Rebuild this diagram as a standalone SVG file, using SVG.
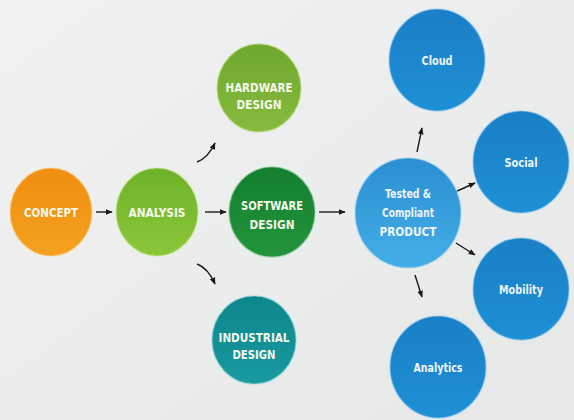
<svg xmlns="http://www.w3.org/2000/svg" width="574" height="420" viewBox="0 0 574 420">
<defs>
<linearGradient id="bg" x1="0" y1="0" x2="1" y2="1">
<stop offset="0" stop-color="#f1f2f2"/><stop offset="1" stop-color="#e6e8e8"/>
</linearGradient>
<linearGradient id="gOrange" x1="0" y1="0" x2="0" y2="1"><stop offset="0" stop-color="#f08e10"/><stop offset="1" stop-color="#f4a11f"/></linearGradient>
<linearGradient id="gLime" x1="0" y1="0" x2="0" y2="1"><stop offset="0" stop-color="#6db22a"/><stop offset="1" stop-color="#8cc63a"/></linearGradient>
<linearGradient id="gHw" x1="0" y1="0" x2="0" y2="1"><stop offset="0" stop-color="#6ea82e"/><stop offset="1" stop-color="#86bb3e"/></linearGradient>
<linearGradient id="gSw" x1="0" y1="0" x2="0" y2="1"><stop offset="0" stop-color="#137f2f"/><stop offset="1" stop-color="#23943b"/></linearGradient>
<linearGradient id="gInd" x1="0" y1="0" x2="0" y2="1"><stop offset="0" stop-color="#0e868c"/><stop offset="1" stop-color="#179aa0"/></linearGradient>
<linearGradient id="gBlue" x1="0" y1="0" x2="0" y2="1"><stop offset="0" stop-color="#1a7fc6"/><stop offset="1" stop-color="#1e90d6"/></linearGradient>
<linearGradient id="gBlueL" x1="0" y1="0" x2="0" y2="1"><stop offset="0" stop-color="#2a8fd3"/><stop offset="1" stop-color="#45aee6"/></linearGradient>
<marker id="ah" viewBox="0 0 10 10" refX="9" refY="5" markerWidth="5" markerHeight="5" orient="auto">
<path d="M0,1 L10,5 L0,9 Z" fill="#1a1a1a"/>
</marker>
<style>
.c{stroke-width:1.5;stroke-opacity:0.5}
.t{font-family:"Liberation Sans Narrow","DejaVu Sans Condensed","Liberation Sans",sans-serif;font-weight:bold;fill:#f4f7ea;text-anchor:middle;font-size:12.5px}
.tb{font-family:"Liberation Sans Narrow","DejaVu Sans Condensed","Liberation Sans",sans-serif;font-weight:bold;fill:#eef5fb;text-anchor:middle;font-size:12.5px}
.a{fill:none;stroke:#1a1a1a;stroke-width:1.4;marker-end:url(#ah)}
</style>
</defs>
<rect width="574" height="420" fill="url(#bg)"/>
<g id="connectors">
<path class="a" d="M96,212 L112,212"/>
<path class="a" d="M197,162 Q208,158 215,143"/>
<path class="a" d="M205,212 L226,212"/>
<path class="a" d="M197,264 Q208,268 215,284"/>
<path class="a" d="M319,212 L345,212"/>
<path class="a" d="M417,152 L422,128"/>
<path class="a" d="M455,192 L475,183"/>
<path class="a" d="M456,243 L475,255"/>
<path class="a" d="M415,275 L422,297"/>
</g>
<g id="concept">
<ellipse class="c" cx="51" cy="212" rx="41" ry="44" fill="url(#gOrange)" stroke="#ffd080"/>
<text class="t" x="51" y="216.5" textLength="54" lengthAdjust="spacingAndGlyphs">CONCEPT</text>
</g>
<g id="analysis">
<ellipse class="c" cx="157" cy="212" rx="41" ry="44" fill="url(#gLime)" stroke="#c8ec8a"/>
<text class="t" x="157" y="216.5" textLength="57" lengthAdjust="spacingAndGlyphs">ANALYSIS</text>
</g>
<g id="hardware">
<ellipse class="c" cx="259" cy="88" rx="42" ry="44" fill="url(#gHw)" stroke="#c0e080"/>
<text class="t" x="259" y="91.5" textLength="67" lengthAdjust="spacingAndGlyphs">HARDWARE</text>
<text class="t" x="259" y="108.5" textLength="45" lengthAdjust="spacingAndGlyphs">DESIGN</text>
</g>
<g id="software">
<ellipse class="c" cx="272" cy="212" rx="43" ry="45" fill="url(#gSw)" stroke="#7cc48a"/>
<text class="t" x="272" y="209.5" textLength="62" lengthAdjust="spacingAndGlyphs">SOFTWARE</text>
<text class="t" x="272" y="228.5" textLength="45" lengthAdjust="spacingAndGlyphs">DESIGN</text>
</g>
<g id="industrial">
<ellipse class="c" cx="254" cy="340" rx="42" ry="44" fill="url(#gInd)" stroke="#80d0d4"/>
<text class="t" x="254" y="341.5" textLength="71" lengthAdjust="spacingAndGlyphs">INDUSTRIAL</text>
<text class="t" x="254" y="358.5" textLength="43" lengthAdjust="spacingAndGlyphs">DESIGN</text>
</g>
<g id="product">
<ellipse class="c" cx="408" cy="213" rx="53" ry="55" fill="url(#gBlueL)" stroke="#a8d8f4"/>
<text class="tb" x="408" y="197.5" textLength="46" lengthAdjust="spacingAndGlyphs">Tested &amp;</text>
<text class="tb" x="408" y="217" textLength="52" lengthAdjust="spacingAndGlyphs">Compliant</text>
<text class="tb" x="408" y="235.5" textLength="57" lengthAdjust="spacingAndGlyphs">PRODUCT</text>
</g>
<g id="cloud">
<ellipse class="c" cx="437" cy="60" rx="48" ry="51" fill="url(#gBlue)" stroke="#8cc8ee"/>
<text class="tb" x="437" y="65" textLength="31" lengthAdjust="spacingAndGlyphs">Cloud</text>
</g>
<g id="social">
<ellipse class="c" cx="521" cy="162" rx="48" ry="51" fill="url(#gBlue)" stroke="#8cc8ee"/>
<text class="tb" x="521" y="167" textLength="33" lengthAdjust="spacingAndGlyphs">Social</text>
</g>
<g id="mobility">
<ellipse class="c" cx="521" cy="289" rx="48" ry="51" fill="url(#gBlue)" stroke="#8cc8ee"/>
<text class="tb" x="521" y="293.5" textLength="44" lengthAdjust="spacingAndGlyphs">Mobility</text>
</g>
<g id="analytics">
<ellipse class="c" cx="438" cy="367" rx="48" ry="51" fill="url(#gBlue)" stroke="#8cc8ee"/>
<text class="tb" x="438" y="371.5" textLength="49" lengthAdjust="spacingAndGlyphs">Analytics</text>
</g>
</svg>
